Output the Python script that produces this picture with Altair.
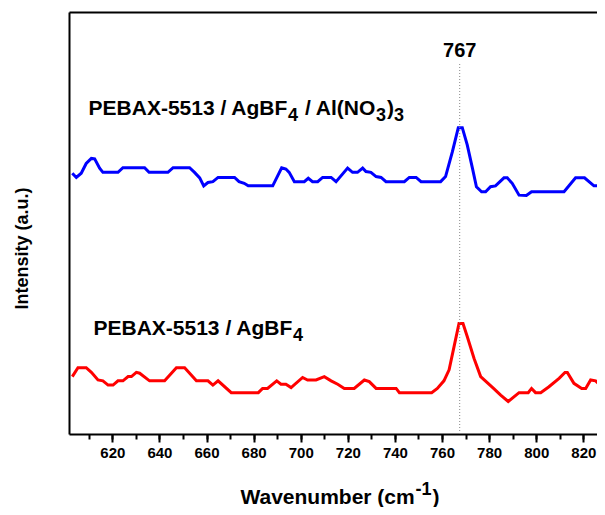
import altair as alt
import pandas as pd

# ---- data ----
blue_wn = [603.0, 604.7, 606.8, 608.9, 611.1, 612.5, 614.6, 616.0, 622.4, 624.5, 633.7, 635.6,
           643.6, 645.8, 652.8, 654.9, 657.1, 658.8, 660.6, 662.7, 664.9, 671.9, 673.8, 676.0,
           677.7, 688.1, 691.9, 693.7, 695.1, 697.3, 701.5, 703.2, 705.0, 707.2, 709.3, 712.9,
           715.0, 719.9, 722.0, 724.1, 726.3, 727.7, 729.8, 732.0, 734.1, 736.2, 744.0, 746.1,
           749.0, 751.1, 759.4, 761.5, 764.4, 766.9, 768.6, 770.7, 772.9, 774.6, 776.8, 778.5,
           780.6, 782.7, 786.3, 787.7, 789.8, 792.7, 795.8, 798.0, 811.8, 816.7, 820.5, 824.5,
           826.7, 829.2]
blue_int = [61.8, 60.8, 61.8, 64.1, 65.3, 65.2, 63.0, 62.0, 62.0, 63.1, 63.1, 62.0,
            62.0, 63.1, 63.1, 62.0, 60.7, 58.8, 59.6, 59.8, 60.8, 60.8, 59.8, 59.4,
            58.8, 58.8, 63.1, 62.8, 62.0, 59.8, 59.8, 60.6, 59.8, 59.8, 60.8, 60.8,
            59.8, 63.0, 62.0, 62.0, 63.0, 62.2, 62.0, 61.0, 60.8, 59.8, 59.8, 60.8,
            60.8, 59.8, 59.8, 61.0, 66.9, 72.6, 72.6, 68.5, 63.0, 58.6, 57.4, 57.4,
            58.6, 58.8, 60.7, 60.7, 59.4, 56.6, 56.5, 57.4, 57.4, 60.7, 60.7, 58.8,
            58.8, 56.8]

red_wn = [603.0, 605.4, 608.9, 611.1, 613.9, 616.0, 618.2, 620.3, 622.4, 624.5, 626.7, 628.1,
          630.2, 631.6, 635.8, 642.2, 647.2, 650.7, 653.5, 655.7, 660.6, 662.7, 664.9, 670.5,
          682.0, 683.8, 685.9, 689.8, 691.6, 693.7, 695.9, 700.8, 702.9, 706.5, 710.0, 712.9,
          715.7, 718.5, 722.7, 727.0, 729.1, 732.0, 740.5, 741.9, 755.6, 758.0, 760.8, 763.0,
          765.1, 767.2, 768.9, 770.7, 773.6, 776.4, 782.1, 784.9, 788.1, 792.7, 796.6, 798.0,
          799.7, 801.9, 805.4, 809.7, 812.2, 813.2, 816.0, 819.3, 821.0, 823.1, 825.2, 829.2]
red_int = [13.6, 15.7, 15.7, 14.6, 12.8, 12.6, 11.6, 11.6, 12.6, 12.6, 13.6, 13.6,
           14.6, 14.4, 12.6, 12.6, 15.7, 15.7, 14.0, 12.6, 12.6, 11.6, 12.6, 9.8,
           9.8, 10.8, 10.8, 12.6, 11.8, 11.8, 11.0, 13.4, 12.8, 12.8, 13.6, 12.6,
           11.8, 10.8, 10.8, 12.8, 12.4, 10.8, 10.8, 9.8, 9.8, 10.8, 12.6, 15.2,
           20.7, 26.2, 26.2, 23.1, 17.9, 13.6, 10.7, 9.2, 7.7, 9.8, 9.8, 10.8,
           9.8, 9.8, 11.2, 13.2, 14.6, 14.6, 12.0, 10.8, 10.8, 12.8, 12.6, 10.4]

series_names = ["PEBAX-5513 / AgBF4 / Al(NO3)3", "PEBAX-5513 / AgBF4"]
series_colors = ["#0000ff", "#ff0000"]

# rich-text labels: (text piece, script: 0 normal, -1 subscript, +1 superscript)
blue_label_parts = [("PEBAX-5513 / AgBF", 0), ("4", -1), (" / Al(NO", 0), ("3", -1), (")", 0), ("3", -1)]
red_label_parts = [("PEBAX-5513 / AgBF", 0), ("4", -1)]
xtitle_parts = [("Wavenumber (cm", 0), ("-1", 1), (")", 0)]
label_wn = [609.9, 612.0, 674.4]       # left edge of each label (wavenumber)
label_int = [75.6, 23.5, -16.6]        # baseline of each label (intensity units)

peak_text = ["767"]
peak_wn = [767.5]
peak_label_int = [89.3]
peak_line_top = [88.0]

major_ticks = list(range(620, 821, 20))
minor_ticks = list(range(610, 826, 10))

x_domain = [601.6, 825.8]
y_domain = [0, 100]

# ---- layout ----
PLOT_W, PLOT_H = 528, 422
FONT = "Liberation Sans"
MAIN_SIZE, SCRIPT_SIZE = 21, 18
px_x = PLOT_W / (x_domain[1] - x_domain[0])
px_y = PLOT_H / (y_domain[1] - y_domain[0])

# Arial/Liberation Sans Bold advance widths (per 1000 em)
W = {"P": 667, "E": 667, "B": 722, "A": 722, "X": 667, "-": 333, "5": 556, "1": 556,
     "3": 556, "4": 556, " ": 278, "/": 278, "g": 611, "F": 611, "l": 278, "(": 333,
     "N": 722, "O": 778, ")": 333, "W": 944, "a": 556, "v": 556, "e": 556, "n": 611,
     "u": 611, "m": 889, "b": 611, "r": 389, "c": 556}


def width(s, size):
    return sum(W.get(ch, 556) for ch in s) / 1000.0 * size


def rich_rows(parts, x0, y0, main_size=MAIN_SIZE):
    rows, cum = [], 0.0
    for txt, script in parts:
        size = main_size if script == 0 else SCRIPT_SIZE
        lead = len(txt) - len(txt.lstrip(" "))
        shift = {0: 0.0, -1: -6.0, 1: 9.0}[script]
        rows.append({"wavenumber": x0 + (cum + width(" " * lead, size)) / px_x,
                     "intensity": y0 + shift / px_y, "text": txt.strip(" "), "size": size})
        cum += width(txt, size) + (1.0 if script != 0 else 0.0)
    return rows


label_rows = (rich_rows(blue_label_parts, label_wn[0], label_int[0])
              + rich_rows(red_label_parts, label_wn[1], label_int[1])
              + rich_rows(xtitle_parts, label_wn[2], label_int[2], main_size=21))

# ---- tables ----
df = pd.concat([
    pd.DataFrame({"wavenumber": blue_wn, "intensity": blue_int, "series": series_names[0]}),
    pd.DataFrame({"wavenumber": red_wn, "intensity": red_int, "series": series_names[1]}),
])
labels_df = pd.DataFrame(label_rows)
peak_df = pd.DataFrame({"wavenumber": peak_wn, "y": peak_label_int, "top": peak_line_top,
                        "bottom": [0.0], "text": peak_text})

xs = alt.Scale(domain=x_domain, nice=False, zero=False)
ys = alt.Scale(domain=y_domain, nice=False, zero=False)

lines = alt.Chart(df).mark_line(strokeWidth=3, clip=True).encode(
    x=alt.X("wavenumber:Q", scale=xs, axis=alt.Axis(
        orient="bottom", values=major_ticks, format="d", tickSize=8, tickWidth=2,
        tickColor="black", domainColor="black", domainWidth=2, labelFont=FONT,
        labelFontSize=15, labelFontWeight="bold", labelColor="black", labelPadding=3,
        grid=False, title=None)),
    y=alt.Y("intensity:Q", scale=ys, axis=alt.Axis(
        orient="left", labels=False, ticks=False, grid=False, domainColor="black",
        domainWidth=2, title="Intensity (a.u.)", titleFont=FONT, titleFontSize=18,
        titleFontWeight="bold", titleColor="black", titleBaseline="middle",
        titleX=-47, titleY=236)),
    color=alt.Color("series:N", scale=alt.Scale(domain=series_names, range=series_colors),
                    legend=None),
)

dotted = alt.Chart(peak_df).mark_rule(color="#888888", strokeWidth=1, strokeDash=[1, 2]).encode(
    x=alt.X("wavenumber:Q", scale=xs, axis=alt.Axis(
        orient="bottom", values=minor_ticks, labels=False, domain=False, tickSize=5,
        tickWidth=2, tickColor="black", grid=False, title=None)),
    y=alt.Y("bottom:Q", scale=ys, axis=None),
    y2="top:Q",
)

peak_label = alt.Chart(peak_df).mark_text(
    font=FONT, fontSize=20, fontWeight="bold", color="black", baseline="alphabetic",
    align="center").encode(
    x=alt.X("wavenumber:Q", scale=xs, axis=alt.Axis(
        orient="top", labels=False, ticks=False, grid=False, domainColor="black",
        domainWidth=2, title=None)),
    y=alt.Y("y:Q", scale=ys, axis=None),
    text="text:N",
)

series_labels = alt.Chart(labels_df).mark_text(
    font=FONT, fontWeight="bold", color="black", baseline="alphabetic",
    align="left").encode(
    x=alt.X("wavenumber:Q", scale=xs, axis=None),
    y=alt.Y("intensity:Q", scale=ys, axis=None),
    text="text:N",
    size=alt.Size("size:Q", scale=None, legend=None),
)

chart = alt.layer(lines, dotted, peak_label, series_labels).resolve_axis(
    x="independent", y="independent"
).properties(
    width=PLOT_W, height=PLOT_H,
    autosize=alt.AutoSizeParams(type="none"),
    padding={"left": 61, "top": 4, "right": 0, "bottom": 73},
).configure_view(stroke=None)

chart.save("out.html", embed_options={"renderer": "svg", "actions": False})
